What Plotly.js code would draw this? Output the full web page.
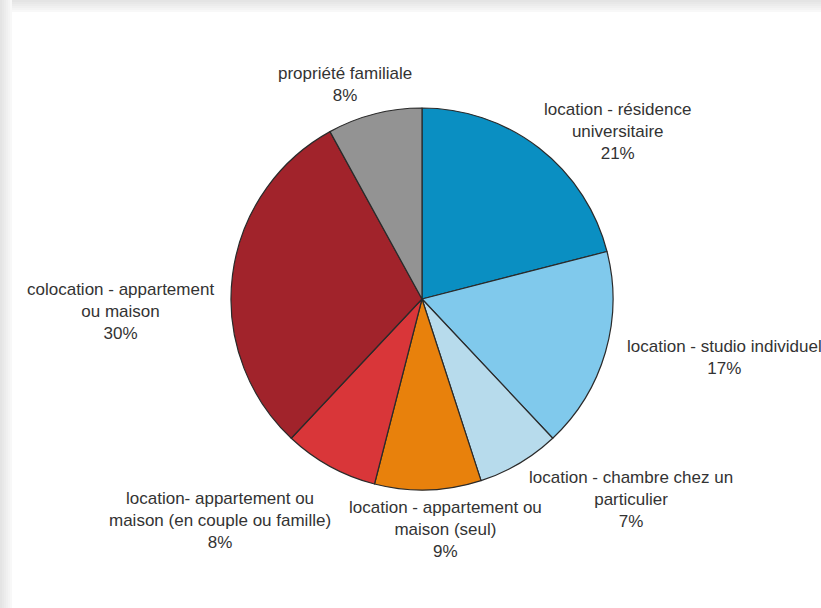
<!DOCTYPE html>
<html>
<head>
<meta charset="utf-8">
<script src="https://cdn.plot.ly/plotly-3.0.1.min.js"></script>
<style>html,body{margin:0;padding:0;background:#fff;}#chart{width:821px;height:608px;}</style>
</head>
<body>
<div id="chart"></div>
<script>
// Data (clockwise from 12 o'clock)
const categories = [
  "location - résidence universitaire",
  "location - studio individuel",
  "location - chambre chez un particulier",
  "location - appartement ou maison (seul)",
  "location- appartement ou maison (en couple ou famille)",
  "colocation - appartement ou maison",
  "propriété familiale"
];
const values = [21, 17, 7, 9, 8, 30, 8];
const labelTexts = [
  "location - résidence<br>universitaire",
  "location - studio individuel",
  "location - chambre chez un<br>particulier",
  "location - appartement ou<br>maison (seul)",
  "location- appartement ou<br>maison (en couple ou famille)",
  "colocation - appartement<br>ou maison",
  "propriété familiale"
];
const colors = ["#0a8fc2", "#80c9ec", "#b7dbec", "#e8810c", "#d93639", "#a1232b", "#939393"];

// label centre positions in pixels (x, y of middle)
const labelPos = [[617, 131], [724, 357], [631, 500], [446, 529], [220, 520], [120, 311], [345, 84.5]];

const W = 821, H = 608;
const annotations = categories.map((c, i) => ({
  xref: "paper", yref: "paper",
  x: labelPos[i][0] / W, y: 1 - labelPos[i][1] / H,
  xanchor: "center", yanchor: "middle",
  text: labelTexts[i] + "<br>" + values[i] + "%",
  showarrow: false, align: "center",
  font: {family: "Liberation Sans, Arial, sans-serif", size: 17, color: "#333333"}
}));

// background card shadow strips
const shapes = [];
const greys = ["#e4e4e4", "#e8e8e8", "#ececec", "#f0f0f0", "#f4f4f4", "#f8f8f8"];
for (let k = 0; k < 6; k++) {
  shapes.push({type: "rect", xref: "paper", yref: "paper", layer: "below",
    x0: (k * 2) / W, x1: (k * 2 + 2) / W, y0: 0, y1: 1, line: {width: 0}, fillcolor: greys[k]});
  shapes.push({type: "rect", xref: "paper", yref: "paper", layer: "below",
    x0: (k * 2) / W, x1: 1, y0: 1 - (k * 2 + 2) / H, y1: 1 - (k * 2) / H, line: {width: 0}, fillcolor: greys[k]});
}

const cx = 422, cy = 299, r = 191;
const trace = {
  type: "pie",
  labels: categories,
  values: values,
  sort: false,
  direction: "clockwise",
  rotation: 0,
  marker: {colors: colors, line: {color: "#2a2a2a", width: 1.2}},
  textinfo: "none",
  hoverinfo: "label+percent",
  showlegend: false,
  domain: {x: [(cx - r) / W, (cx + r) / W], y: [1 - (cy + r) / H, 1 - (cy - r) / H]}
};

Plotly.newPlot("chart", [trace], {
  width: W, height: H,
  margin: {l: 0, r: 0, t: 0, b: 0},
  paper_bgcolor: "#ffffff",
  showlegend: false,
  annotations: annotations,
  shapes: shapes
}, {displayModeBar: false, staticPlot: true});
</script>
</body>
</html>
